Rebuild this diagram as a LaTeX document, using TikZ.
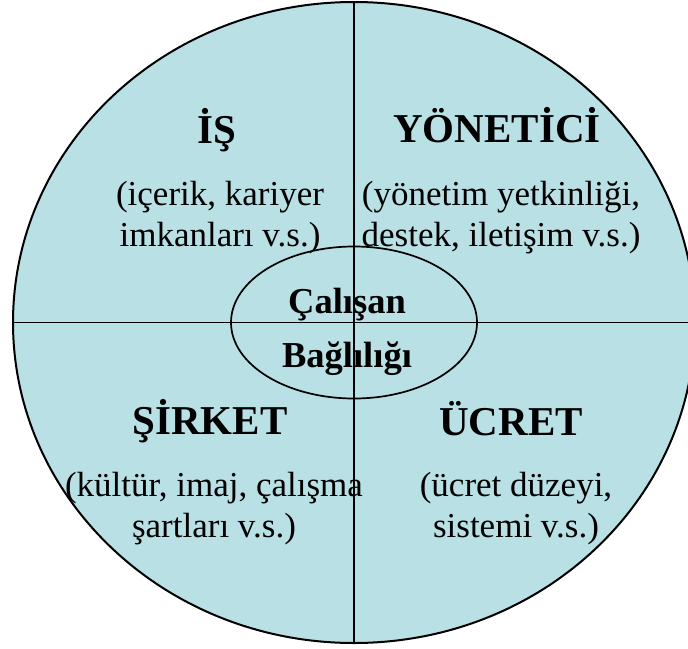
\documentclass[tikz,border=0pt]{standalone}
\usepackage{fontspec}
\setmainfont{Liberation Serif}
\usetikzlibrary{shapes.geometric}
\definecolor{quadfill}{RGB}{185,224,228}

\begin{document}
\begin{tikzpicture}[x=1pt, y=-1pt,
    headtext/.style={font=\fontsize{41}{45}\selectfont\bfseries, anchor=base, inner sep=0pt},
    desctext/.style={font=\fontsize{35}{41}\selectfont, align=center, anchor=base, inner sep=0pt},
    coretext/.style={font=\fontsize{36.5}{54}\selectfont\bfseries, align=center, anchor=base, inner sep=0pt}
  ]
    \useasboundingbox (0,0) rectangle (688,648);
    \clip (0,0) rectangle (688,648);
    \node[ellipse, draw, line width=2pt, fill=quadfill, minimum width=682pt, minimum height=641pt, inner sep=0pt] (outer) at (354,322.5) {};
    \node[ellipse, draw, line width=1.7pt, minimum width=246pt, minimum height=152pt, inner sep=0pt] (hub) at (354,322.5) {};
    \draw[line width=1.7pt] (outer.north) -- (outer.south);
    \draw[line width=1.7pt] (outer.west) -- (outer.east);
    \node[headtext] (is) at (217,143) {İŞ};
    \node[desctext] (isdesc) at (220,246) {(içerik, kariyer\\imkanları v.s.)};
    \node[headtext] (yonetici) at (497,142) {YÖNETİCİ};
    \node[desctext] (yondesc) at (501,246) {(yönetim yetkinliği,\\destek, iletişim v.s.)};
    \node[headtext] (sirket) at (210,434) {ŞİRKET};
    \node[desctext] (sirdesc) at (214,537) {(kültür, imaj, çalışma\\şartları v.s.)};
    \node[headtext] (ucret) at (511,435) {ÜCRET};
    \node[desctext] (ucrdesc) at (516,537) {(ücret düzeyi,\\sistemi v.s.)};
    \node[coretext] (core) at (347,367) {Çalışan\\Bağlılığı};
  \end{tikzpicture}
\end{document}
